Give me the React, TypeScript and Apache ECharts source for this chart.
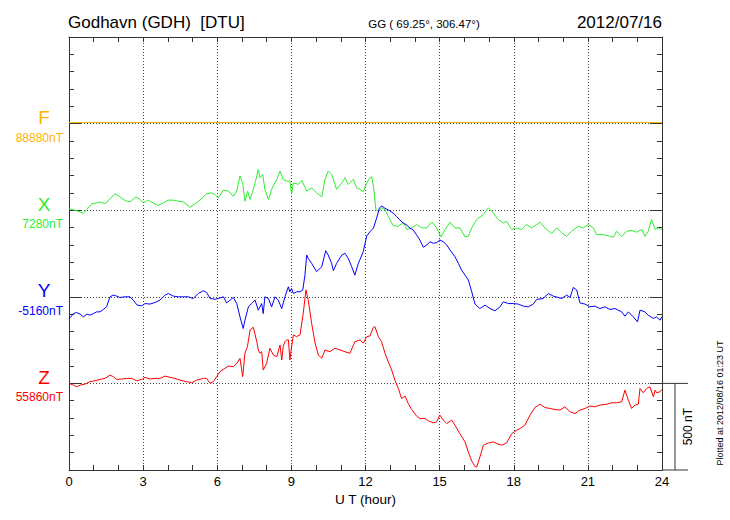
import React, { useEffect, useRef } from "react";
import * as echarts from "echarts";

// ---- data ----
const components = ["F", "X", "Y", "Z"];
const baselines = [88880, 7280, -5160, 55860];
const baselineLabels = ["88880nT", "7280nT", "-5160nT", "55860nT"];
const colors = ["#FFB300", "#2EEE2E", "#0000FF", "#FF0000"];
const slots = [2000, 1500, 1000, 500];
const hourTicks = [0, 3, 6, 9, 12, 15, 18, 21, 24];

const fData = [[0, 88886], [24, 88886]];

const xData = [
  [0, 7288], [0.24, 7280], [0.45, 7270], [0.58, 7261], [0.72, 7284], [0.92, 7317], [1.12, 7322], [1.25, 7328],
  [1.46, 7317], [1.66, 7346], [1.86, 7375], [2.06, 7357], [2.27, 7336], [2.47, 7328], [2.71, 7357], [2.87, 7342],
  [3.01, 7322], [3.21, 7338], [3.41, 7322], [3.61, 7307], [3.82, 7322], [4.02, 7338], [4.22, 7338], [4.42, 7332],
  [4.63, 7328], [4.9, 7297], [5.1, 7317], [5.3, 7338], [5.57, 7375], [5.77, 7380], [5.91, 7371], [6.04, 7351],
  [6.25, 7396], [6.45, 7390], [6.65, 7361], [6.79, 7390], [6.92, 7477], [7.03, 7438], [7.12, 7332], [7.23, 7390],
  [7.33, 7342], [7.46, 7400], [7.6, 7477], [7.66, 7515], [7.73, 7467], [7.84, 7487], [7.93, 7400], [8.07, 7342],
  [8.2, 7400], [8.41, 7458], [8.54, 7506], [8.67, 7458], [8.81, 7448], [8.94, 7448], [9.01, 7371], [9.08, 7438],
  [9.28, 7429], [9.42, 7452], [9.62, 7390], [9.82, 7409], [10.02, 7380], [10.23, 7357], [10.36, 7458], [10.49, 7506],
  [10.63, 7487], [10.83, 7400], [11.04, 7438], [11.17, 7467], [11.3, 7429], [11.51, 7458], [11.64, 7409], [11.78, 7400],
  [11.91, 7386], [12.05, 7438], [12.18, 7467], [12.25, 7473], [12.32, 7419], [12.42, 7284], [12.52, 7270], [12.65, 7294],
  [12.79, 7284], [12.92, 7245], [13.12, 7191], [13.33, 7187], [13.53, 7211], [13.67, 7168], [13.87, 7178], [14.07, 7197],
  [14.27, 7178], [14.48, 7178], [14.68, 7212], [14.88, 7178], [15.05, 7126], [15.22, 7168], [15.42, 7211], [15.62, 7178],
  [15.82, 7178], [16.03, 7126], [16.16, 7129], [16.3, 7178], [16.5, 7226], [16.77, 7255], [16.97, 7294], [17.17, 7265],
  [17.37, 7226], [17.58, 7207], [17.71, 7216], [17.92, 7168], [18.12, 7178], [18.32, 7168], [18.52, 7197], [18.72, 7178],
  [18.93, 7197], [19.06, 7211], [19.26, 7178], [19.53, 7145], [19.74, 7178], [19.94, 7149], [20.14, 7129], [20.34, 7158],
  [20.61, 7187], [20.81, 7178], [21.02, 7197], [21.22, 7178], [21.35, 7139], [21.62, 7139], [21.83, 7133], [22.03, 7124],
  [22.16, 7158], [22.37, 7129], [22.57, 7158], [22.77, 7164], [22.97, 7153], [23.18, 7168], [23.31, 7129], [23.44, 7158],
  [23.58, 7226], [23.72, 7168], [23.85, 7178], [23.99, 7168],
];

const yData = [
  [0, -5288], [0.18, -5257], [0.31, -5251], [0.45, -5260], [0.58, -5276], [0.72, -5260], [0.85, -5266], [0.98, -5257],
  [1.12, -5247], [1.25, -5247], [1.39, -5233], [1.52, -5218], [1.66, -5160], [1.79, -5150], [1.93, -5156], [2.06, -5164],
  [2.27, -5160], [2.47, -5160], [2.6, -5179], [2.76, -5208], [2.94, -5212], [3.08, -5199], [3.28, -5202], [3.48, -5193],
  [3.68, -5179], [3.89, -5150], [4.02, -5141], [4.22, -5156], [4.42, -5160], [4.63, -5160], [4.83, -5160], [5.03, -5170],
  [5.23, -5141], [5.44, -5125], [5.57, -5135], [5.71, -5170], [5.91, -5174], [6.04, -5170], [6.25, -5160], [6.38, -5195],
  [6.52, -5179], [6.65, -5164], [6.79, -5199], [6.92, -5276], [7.05, -5343], [7.12, -5295], [7.26, -5218], [7.39, -5199],
  [7.53, -5179], [7.66, -5237], [7.8, -5199], [7.86, -5257], [7.93, -5160], [8.07, -5170], [8.2, -5218], [8.34, -5160],
  [8.47, -5179], [8.61, -5228], [8.74, -5160], [8.88, -5102], [8.94, -5131], [9.01, -5112], [9.08, -5141], [9.21, -5131],
  [9.35, -5131], [9.46, -5121], [9.55, -5035], [9.62, -4919], [9.68, -4938], [9.82, -4967], [10.02, -5015], [10.23, -4986],
  [10.39, -4894], [10.49, -4919], [10.63, -4967], [10.7, -5009], [10.83, -4967], [11.04, -4919], [11.17, -4909], [11.3, -4938],
  [11.44, -4986], [11.57, -5035], [11.71, -4967], [11.78, -4944], [11.91, -4899], [12.05, -4809], [12.18, -4784], [12.32, -4764],
  [12.45, -4706], [12.56, -4649], [12.65, -4635], [12.79, -4649], [12.92, -4658], [13.12, -4677], [13.26, -4697], [13.39, -4716],
  [13.53, -4735], [13.67, -4745], [13.8, -4764], [13.93, -4774], [14.07, -4803], [14.2, -4832], [14.34, -4874], [14.48, -4861],
  [14.61, -4842], [14.74, -4851], [14.88, -4847], [15.01, -4832], [15.15, -4842], [15.29, -4861], [15.42, -4890], [15.62, -4928],
  [15.76, -4967], [15.89, -5006], [16.03, -5035], [16.16, -5063], [16.3, -5131], [16.43, -5202], [16.63, -5228], [16.84, -5208],
  [17.04, -5228], [17.24, -5241], [17.44, -5218], [17.58, -5189], [17.78, -5199], [17.98, -5199], [18.18, -5202], [18.39, -5214],
  [18.59, -5218], [18.79, -5202], [18.93, -5175], [19.19, -5170], [19.4, -5141], [19.6, -5156], [19.8, -5164], [19.94, -5170],
  [20.14, -5150], [20.28, -5164], [20.41, -5106], [20.55, -5121], [20.68, -5195], [20.88, -5202], [21.08, -5218], [21.29, -5214],
  [21.49, -5228], [21.69, -5218], [21.89, -5233], [22.1, -5228], [22.37, -5247], [22.5, -5272], [22.64, -5247], [22.84, -5276],
  [23.01, -5305], [23.11, -5237], [23.31, -5247], [23.44, -5266], [23.65, -5285], [23.78, -5276], [23.92, -5295], [23.99, -5276],
];

const zData = [
  [0, 55860], [0.18, 55850], [0.31, 55841], [0.45, 55850], [0.65, 55856], [0.85, 55870], [1.05, 55875], [1.25, 55883],
  [1.46, 55889], [1.66, 55908], [1.79, 55899], [1.93, 55883], [2.13, 55885], [2.33, 55889], [2.54, 55889], [2.74, 55875],
  [2.94, 55883], [3.08, 55895], [3.28, 55885], [3.48, 55889], [3.68, 55889], [3.89, 55902], [4.09, 55895], [4.29, 55889],
  [4.49, 55879], [4.76, 55870], [4.97, 55864], [5.17, 55879], [5.44, 55889], [5.57, 55889], [5.71, 55860], [5.84, 55870],
  [5.98, 55899], [6.11, 55928], [6.31, 55947], [6.45, 55960], [6.65, 55957], [6.79, 55976], [6.92, 56005], [7.03, 55899],
  [7.12, 56034], [7.22, 56072], [7.33, 56169], [7.46, 56184], [7.6, 56101], [7.66, 56053], [7.73, 56034], [7.8, 56043],
  [7.86, 55937], [8.0, 55976], [8.13, 56063], [8.27, 56024], [8.41, 56014], [8.54, 56082], [8.61, 55995], [8.67, 56072],
  [8.74, 56101], [8.81, 56111], [8.88, 56111], [8.94, 55995], [9.01, 56072], [9.08, 56140], [9.21, 56130], [9.35, 56140],
  [9.48, 56265], [9.59, 56400], [9.68, 56343], [9.82, 56207], [9.96, 56092], [10.09, 56024], [10.23, 56005], [10.36, 56053],
  [10.56, 56043], [10.76, 56063], [10.97, 56053], [11.17, 56043], [11.37, 56034], [11.57, 56101], [11.78, 56111], [11.91, 56092],
  [12.05, 56130], [12.18, 56134], [12.32, 56184], [12.38, 56188], [12.52, 56130], [12.65, 56101], [12.79, 56034], [12.92, 55985],
  [13.06, 55937], [13.19, 55879], [13.33, 55831], [13.46, 55773], [13.6, 55787], [13.73, 55744], [13.87, 55709], [14.07, 55671],
  [14.2, 55657], [14.41, 55657], [14.54, 55644], [14.74, 55632], [14.88, 55638], [15.01, 55677], [15.15, 55648], [15.29, 55628],
  [15.49, 55648], [15.62, 55619], [15.82, 55570], [16.03, 55522], [16.16, 55464], [16.3, 55412], [16.43, 55381], [16.5, 55377],
  [16.63, 55435], [16.77, 55503], [16.97, 55516], [17.17, 55522], [17.31, 55513], [17.51, 55503], [17.71, 55516], [17.92, 55570],
  [18.12, 55590], [18.25, 55599], [18.45, 55619], [18.66, 55677], [18.86, 55721], [19.06, 55740], [19.26, 55721], [19.47, 55715],
  [19.67, 55709], [19.87, 55706], [20.07, 55725], [20.28, 55696], [20.48, 55686], [20.68, 55706], [20.88, 55715], [21.08, 55729],
  [21.29, 55725], [21.49, 55735], [21.76, 55740], [21.96, 55748], [22.16, 55748], [22.37, 55754], [22.5, 55821], [22.64, 55763],
  [22.77, 55715], [22.91, 55735], [23.04, 55740], [23.11, 55831], [23.24, 55806], [23.38, 55831], [23.51, 55841], [23.65, 55783],
  [23.72, 55821], [23.78, 55806], [23.92, 55812], [23.99, 55825],
];

const seriesData = [fData, xData, yData, zData];

const FONT = '"Liberation Sans", Arial, Helvetica, sans-serif';
const AXIS_COLOR = "#333";

export default function App() {
  const ref = useRef<HTMLDivElement>(null);

  useEffect(() => {
    document.body.style.margin = "0";
    const chart = echarts.init(ref.current!, null, { renderer: "svg" });

    const xAxisBase = {
      type: "value",
      min: hourTicks[0],
      max: hourTicks[hourTicks.length - 1],
      interval: 3,
      axisLine: { show: true, onZero: false, lineStyle: { color: AXIS_COLOR, width: 1 } },
      axisTick: { show: true, inside: true, length: 5, lineStyle: { color: AXIS_COLOR } },
      minorTick: { show: true, splitNumber: 3, length: 5, lineStyle: { color: AXIS_COLOR } },
    };
    const yAxisBase = {
      type: "value",
      min: 0,
      max: 2500,
      interval: 500,
      axisLine: { show: true, onZero: false, lineStyle: { color: AXIS_COLOR, width: 1 } },
      axisTick: { show: true, inside: true, length: 12, lineStyle: { color: AXIS_COLOR } },
      minorTick: { show: true, splitNumber: 5, length: 5, lineStyle: { color: AXIS_COLOR } },
      axisLabel: { show: false },
    };

    const option: any = {
      animation: false,
      textStyle: { fontFamily: FONT },
      grid: { left: 69, top: 37, width: 593, height: 433, containLabel: false },
      xAxis: [
        {
          ...xAxisBase,
          position: "bottom",
          axisLabel: { show: true, fontSize: 13, color: "#000", margin: 5, fontFamily: FONT },
          splitLine: { show: true, lineStyle: { type: [1, 2], color: "#444", width: 1 } },
        },
        {
          ...xAxisBase,
          position: "top",
          axisLabel: { show: false },
          splitLine: { show: false },
        },
      ],
      yAxis: [
        {
          ...yAxisBase,
          position: "left",
          splitLine: { show: true, lineStyle: { type: [1, 2], color: "#444", width: 1 } },
        },
        {
          ...yAxisBase,
          position: "right",
          splitLine: { show: false },
        },
      ],
      series: seriesData.map((arr, i) => ({
        name: components[i],
        type: "line",
        xAxisIndex: 0,
        yAxisIndex: 0,
        showSymbol: false,
        symbol: "none",
        lineStyle: { color: colors[i], width: 1 },
        data: arr.map((d) => [d[0], d[1] - baselines[i] + slots[i]]),
        z: 3,
      })),
    };

    chart.setOption(option);

    const yPix = (v: number) => chart.convertToPixel({ yAxisIndex: 0 }, v) as number;
    const xPix = (v: number) => chart.convertToPixel({ xAxisIndex: 0 }, v) as number;

    const graphics: any[] = [];
    graphics.push({
      type: "text",
      style: { text: "Godhavn (GDH)  [DTU]", x: 68, y: 22, align: "left", verticalAlign: "middle", font: `17px ${FONT}`, fill: "#000" },
    });
    graphics.push({
      type: "text",
      style: { text: "GG ( 69.25°, 306.47°)", x: 424, y: 24, align: "center", verticalAlign: "middle", font: `11.5px ${FONT}`, fill: "#000" },
    });
    graphics.push({
      type: "text",
      style: { text: "2012/07/16", x: 662, y: 22, align: "right", verticalAlign: "middle", font: `17px ${FONT}`, fill: "#000" },
    });
    graphics.push({
      type: "text",
      style: { text: "U T (hour)", x: (xPix(0) + xPix(24)) / 2, y: 499, align: "center", verticalAlign: "middle", font: `13.5px ${FONT}`, fill: "#000" },
    });
    components.forEach((c, i) => {
      const py = yPix(slots[i]);
      graphics.push({
        type: "text",
        style: { text: c, x: 44, y: py - 6, align: "center", verticalAlign: "middle", font: `19px ${FONT}`, fill: colors[i] },
      });
      graphics.push({
        type: "text",
        style: { text: baselineLabels[i], x: 63, y: py + 14, align: "right", verticalAlign: "middle", font: `12px ${FONT}`, fill: colors[i] },
      });
    });
    const right = xPix(24);
    const y500 = yPix(500);
    const y0 = yPix(0);
    const barStyle = { stroke: AXIS_COLOR, lineWidth: 1 };
    graphics.push({ type: "line", shape: { x1: right, y1: y500, x2: right + 26, y2: y500 }, style: barStyle });
    graphics.push({ type: "line", shape: { x1: right, y1: y0, x2: right + 26, y2: y0 }, style: barStyle });
    graphics.push({ type: "line", shape: { x1: right + 13, y1: y500, x2: right + 13, y2: y0 }, style: barStyle });
    graphics.push({
      type: "text",
      x: right + 26,
      y: (y500 + y0) / 2,
      rotation: Math.PI / 2,
      style: { text: "500 nT", x: 0, y: 0, align: "center", verticalAlign: "middle", font: `12px ${FONT}`, fill: "#000" },
    });
    graphics.push({
      type: "text",
      x: 720,
      y: 403,
      rotation: Math.PI / 2,
      style: { text: "Plotted at 2012/08/16 01:23 UT", x: 0, y: 0, align: "center", verticalAlign: "middle", font: `9px ${FONT}`, fill: "#000" },
    });

    chart.setOption({ graphic: graphics });

    return () => chart.dispose();
  }, []);

  return <div ref={ref} style={{ width: 730, height: 520 }} />;
}
